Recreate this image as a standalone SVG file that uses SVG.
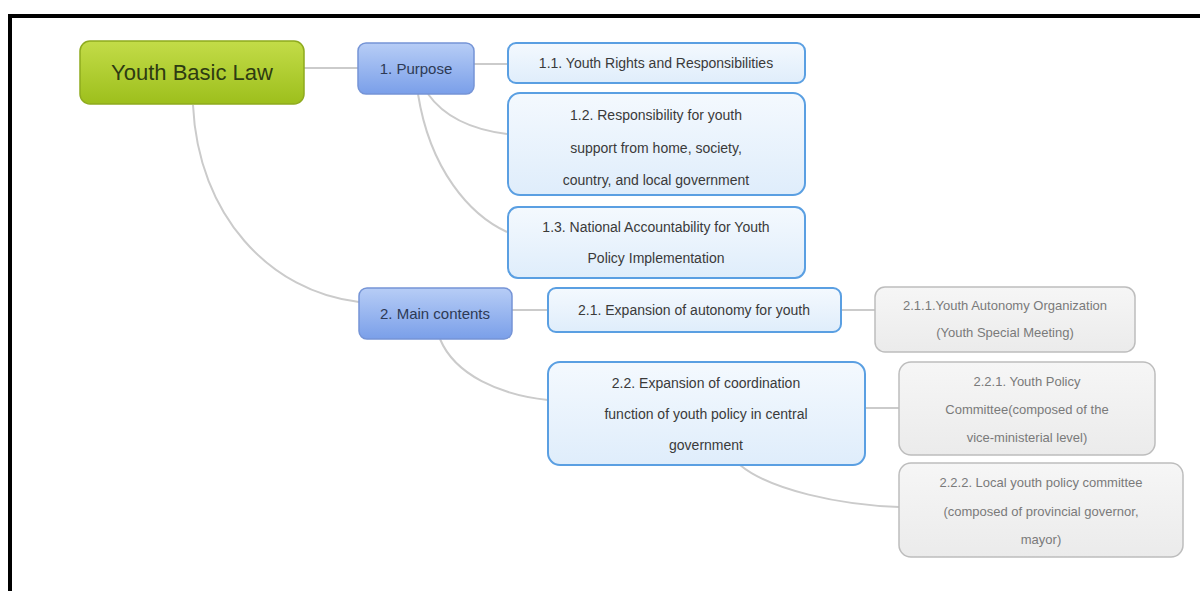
<svg xmlns="http://www.w3.org/2000/svg" width="1200" height="591" viewBox="0 0 1200 591">
<defs>
<linearGradient id="gGreen" x1="0" y1="0" x2="0" y2="1"><stop offset="0" stop-color="#c3dc48"/><stop offset="1" stop-color="#9dbf1c"/></linearGradient>
<linearGradient id="gBlue" x1="0" y1="0" x2="0" y2="1"><stop offset="0" stop-color="#b7cdf6"/><stop offset="1" stop-color="#7a9fe9"/></linearGradient>
<linearGradient id="gLight" x1="0" y1="0" x2="0" y2="1"><stop offset="0" stop-color="#f4f9fe"/><stop offset="1" stop-color="#dfedfb"/></linearGradient>
<linearGradient id="gGray" x1="0" y1="0" x2="0" y2="1"><stop offset="0" stop-color="#f6f6f6"/><stop offset="1" stop-color="#ebebeb"/></linearGradient>
</defs>
<style>
.root{fill:url(#gGreen);stroke:#8fab1e;stroke-width:1.5}
.main{fill:url(#gBlue);stroke:#7594d6;stroke-width:1.5}
.sub{fill:url(#gLight);stroke:#5a9fe2;stroke-width:2}
.leaf{fill:url(#gGray);stroke:#bdbdbd;stroke-width:1.5}
text{font-family:"Liberation Sans",Arial,sans-serif;text-anchor:middle}
.tr{font-size:22px;fill:#2e3b12}
.tm{font-size:15px;fill:#2d3a55}
.ts{font-size:14px;fill:#3a3a3a}
.tl{font-size:13px;fill:#7a7a7a}
.con{fill:none;stroke:#cbcbcb;stroke-width:2}
</style>
<rect width="1200" height="591" fill="#ffffff"/>
<path d="M10,591 V16 H1200" fill="none" stroke="#000000" stroke-width="4"/>
<g id="connectors">
<path class="con" d="M304,68 H358"/>
<path class="con" d="M193,105 C198,215 270,292 359,302"/>
<path class="con" d="M474,64 H507"/>
<path class="con" d="M428,94 C445,118 475,130 507,134"/>
<path class="con" d="M418,94 C430,170 470,215 507,232"/>
<path class="con" d="M512,310 H548"/>
<path class="con" d="M440,339 C455,375 500,395 548,400"/>
<path class="con" d="M841,310 H875"/>
<path class="con" d="M865,408 H899"/>
<path class="con" d="M740,465 C770,490 840,505 899,507"/>
</g>
<g id="n-root"><rect class="root" x="80" y="41" width="224" height="63" rx="10"/><text class="tr" x="192" y="80">Youth Basic Law</text></g>
<g id="n-1"><rect class="main" x="358" y="43" width="116" height="51" rx="8"/><text class="tm" x="416" y="74">1. Purpose</text></g>
<g id="n-2"><rect class="main" x="359" y="288" width="153" height="51" rx="8"/><text class="tm" x="435" y="319">2. Main contents</text></g>
<g id="n-1-1"><rect class="sub" x="508" y="43" width="297" height="40" rx="8"/><text class="ts" x="656" y="68">1.1. Youth Rights and Responsibilities</text></g>
<g id="n-1-2"><rect class="sub" x="508" y="93" width="297" height="102" rx="12"/><text class="ts" x="656" y="120">1.2. Responsibility for youth</text><text class="ts" x="656" y="153">support from home, society,</text><text class="ts" x="656" y="185">country, and local government</text></g>
<g id="n-1-3"><rect class="sub" x="508" y="207" width="297" height="71" rx="10"/><text class="ts" x="656" y="232">1.3. National Accountability for Youth</text><text class="ts" x="656" y="263">Policy Implementation</text></g>
<g id="n-2-1"><rect class="sub" x="548" y="288" width="293" height="44" rx="8"/><text class="ts" x="694" y="315">2.1. Expansion of autonomy for youth</text></g>
<g id="n-2-2"><rect class="sub" x="548" y="362" width="317" height="103" rx="12"/><text class="ts" x="706" y="388">2.2. Expansion of coordination</text><text class="ts" x="706" y="419">function of youth policy in central</text><text class="ts" x="706" y="450">government</text></g>
<g id="n-2-1-1"><rect class="leaf" x="875" y="287" width="260" height="65" rx="10"/><text class="tl" x="1005" y="310">2.1.1.Youth Autonomy Organization</text><text class="tl" x="1005" y="337">(Youth Special Meeting)</text></g>
<g id="n-2-2-1"><rect class="leaf" x="899" y="362" width="256" height="93" rx="12"/><text class="tl" x="1027" y="386">2.2.1. Youth Policy</text><text class="tl" x="1027" y="414">Committee(composed of the</text><text class="tl" x="1027" y="442">vice-ministerial level)</text></g>
<g id="n-2-2-2"><rect class="leaf" x="899" y="463" width="284" height="94" rx="12"/><text class="tl" x="1041" y="487">2.2.2. Local youth policy committee</text><text class="tl" x="1041" y="516">(composed of provincial governor,</text><text class="tl" x="1041" y="544">mayor)</text></g>
</svg>
